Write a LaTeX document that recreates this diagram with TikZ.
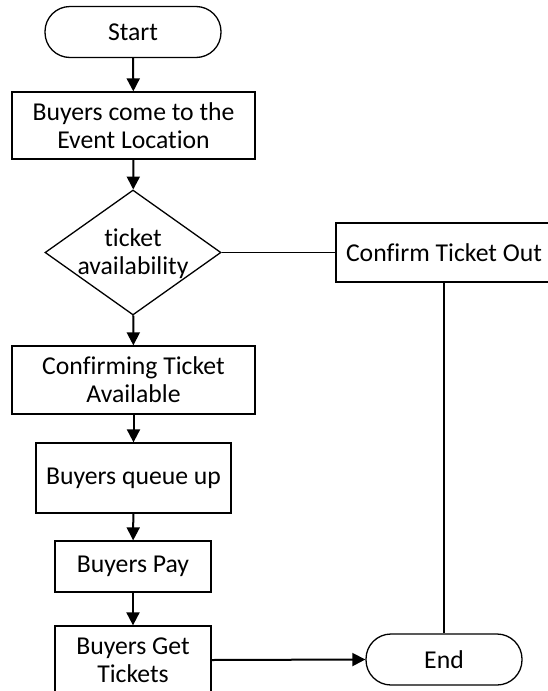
\documentclass[tikz,border=0pt]{standalone}
\usepackage{fontspec}
\setmainfont{Carlito}[Ligatures=NoCommon]
\usetikzlibrary{arrows.meta,shapes.geometric}
\begin{document}
\begin{tikzpicture}[x=1pt,y=-1pt,
  every node/.style={font=\fontsize{25.7}{28}\selectfont, align=center, inner sep=0pt},
  procbox/.style={draw, line width=1.3pt, rectangle},
  termbox/.style={draw, line width=1.3pt, rectangle, rounded corners=25pt},
  decbox/.style={draw, line width=1.3pt, diamond, minimum width=176pt, minimum height=125pt},
  flow/.style={line width=2pt, -{Triangle[length=13pt,width=13pt]}},
  plain/.style={line width=1.3pt}]
\useasboundingbox (0,0) rectangle (547,691);
\node[termbox, minimum width=176pt, minimum height=51pt] (start) at (133,32) {Start};
\node[procbox, minimum width=243pt, minimum height=67pt] (come) at (133.5,125.5) {Buyers come to the\\Event Location};
\node[decbox] (avail) at (133,252.5) {};
\node at (133,254) {ticket\\availability};
\node[procbox, minimum width=216pt, minimum height=59pt] (out) at (444,252.5) {Confirm Ticket Out};
\node[procbox, minimum width=243pt, minimum height=68pt] (conf) at (133.5,380) {Confirming Ticket\\Available};
\node[procbox, minimum width=195pt, minimum height=70pt] (queue) at (133.5,478) {Buyers queue up};
\node[procbox, minimum width=156pt, minimum height=51pt] (pay) at (133,566.5) {Buyers Pay};
\node[procbox, minimum width=156pt, minimum height=68pt] (get) at (133,660) {Buyers Get\\Tickets};
\node[termbox, minimum width=156pt, minimum height=51pt] (end) at (444,659.5) {End};
\draw[flow] (start) -- (come);
\draw[flow] (come) -- (avail);
\draw[flow] (avail) -- (conf);
\draw[flow] (conf) -- (queue);
\draw[flow] (queue) -- (pay);
\draw[flow] (pay) -- (get);
\draw[plain] (avail.east) -- (out.west);
\draw[plain] (out.south) -- (end.north);
\draw[flow] (get.east) -- (end.west);
\end{tikzpicture}
\end{document}
